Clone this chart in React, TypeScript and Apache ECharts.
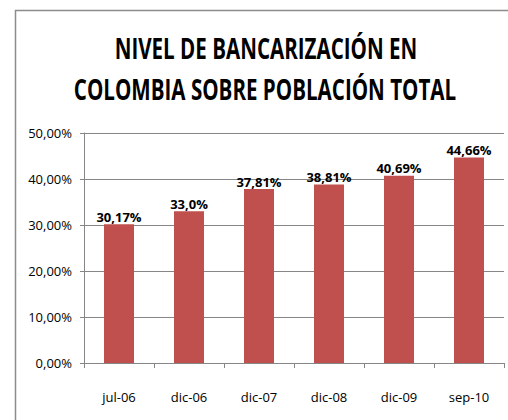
import React, { useEffect, useRef } from "react";
import * as echarts from "echarts";

const categories = ["jul-06", "dic-06", "dic-07", "dic-08", "dic-09", "sep-10"];
const values = [30.17, 33.0, 37.81, 38.81, 40.69, 44.66];
const valueLabels = ["30,17%", "33,0%", "37,81%", "38,81%", "40,69%", "44,66%"];
const titleLines = ["NIVEL DE BANCARIZACIÓN EN", "COLOMBIA SOBRE POBLACIÓN TOTAL"];

const FONT = "'Open Sans', sans-serif";

export default function App() {
  const ref = useRef<HTMLDivElement>(null);
  useEffect(() => {
    if (!ref.current) return;
    const chart = echarts.init(ref.current, undefined, { renderer: "svg" });
    const titleStyle = {
      fill: "#000000",
      font: "bold 29px 'Open Sans', sans-serif",
      align: "center",
      verticalAlign: "middle",
    };
    chart.setOption({
      animation: false,
      backgroundColor: "#ffffff",
      graphic: [
        {
          type: "rect",
          shape: { x: 15.5, y: 10.5, width: 520, height: 430 },
          style: { fill: "none", stroke: "#8c8c8c", lineWidth: 1.5 },
          silent: true,
        },
        {
          type: "text",
          x: 266,
          y: 47,
          scaleX: 0.71,
          style: { ...titleStyle, text: titleLines[0] },
          silent: true,
        },
        {
          type: "text",
          x: 265,
          y: 88,
          scaleX: 0.71,
          style: { ...titleStyle, text: titleLines[1] },
          silent: true,
        },
      ],
      grid: { left: 84, right: 4, top: 133, bottom: 57 },
      xAxis: {
        type: "category",
        data: categories,
        axisLine: { show: true, lineStyle: { color: "#868686" } },
        axisTick: { show: true, alignWithLabel: false, length: 5, lineStyle: { color: "#868686" } },
        axisLabel: { fontFamily: FONT, fontSize: 13, color: "#000", margin: 27 },
      },
      yAxis: {
        type: "value",
        min: 0,
        max: 50,
        interval: 10,
        axisLine: { show: true, lineStyle: { color: "#868686" } },
        axisTick: { show: true, length: 4, lineStyle: { color: "#868686" } },
        splitLine: { show: true, lineStyle: { color: "#868686", width: 1 } },
        axisLabel: {
          fontFamily: FONT,
          fontSize: 13,
          color: "#000",
          margin: 12,
          formatter: (v: number) => v.toFixed(2).replace(".", ",") + "%",
        },
      },
      series: [
        {
          type: "bar",
          data: values,
          barWidth: 30,
          itemStyle: { color: "#C0504D" },
          label: {
            show: true,
            position: "top",
            distance: 1,
            fontFamily: FONT,
            fontWeight: "bold",
            fontSize: 13,
            color: "#000",
            formatter: (p: any) => valueLabels[p.dataIndex],
          },
        },
      ],
    });
    return () => chart.dispose();
  }, []);
  return (
    <div
      ref={ref}
      style={{ position: "fixed", left: 0, top: 0, width: 508, height: 420 }}
    />
  );
}
